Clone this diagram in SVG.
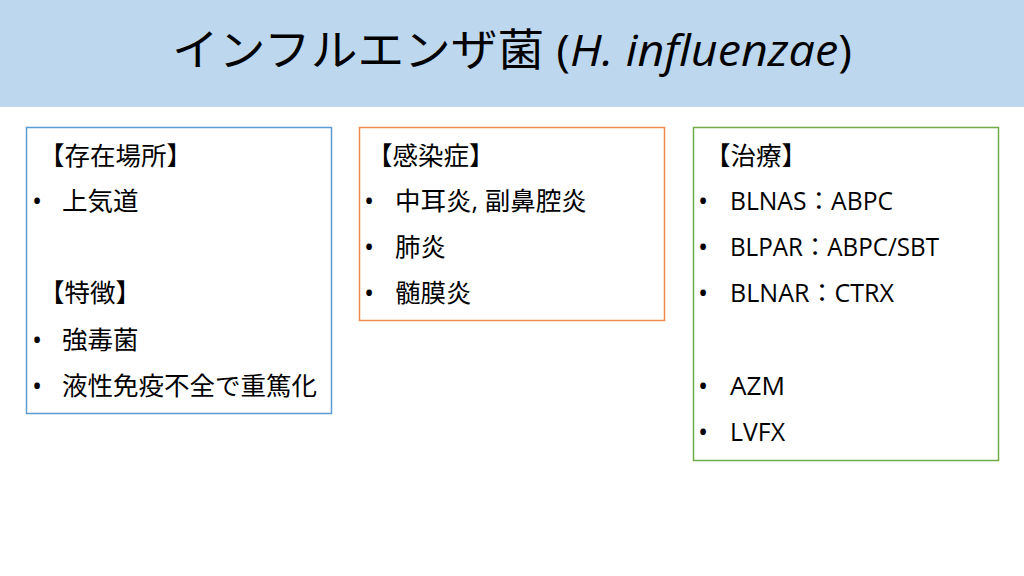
<svg xmlns="http://www.w3.org/2000/svg" width="1024" height="576" viewBox="0 0 1024 576">
<style>
text{font-family:"Open Sans","Noto Sans CJK JP",sans-serif;fill:#000}
.t{font-size:44px}
.b{font-size:25.5px}
.d{font-size:27px}
.box{fill:#fff;stroke-width:1.5}
</style>
<rect x="0" y="0" width="1024" height="576" fill="#fff"/>
<g id="title">
<rect x="0" y="0" width="1024" height="107" fill="#BDD7EE"/>
<text class="t" x="512" y="66" text-anchor="middle" textLength="680" lengthAdjust="spacingAndGlyphs">インフルエンザ菌 (<tspan font-style="italic">H. influenzae</tspan>)</text>
</g>
<g id="box-location">
<rect class="box" x="26.5" y="127.5" width="305" height="286" stroke="#5B9BD5"/>
<text class="b" x="39" y="165">【存在場所】</text>
<text class="d" x="32" y="211">•</text><text class="b" x="62" y="210">上気道</text>
<text class="b" x="39" y="302">【特徴】</text>
<text class="d" x="32" y="350">•</text><text class="b" x="62" y="349">強毒菌</text>
<text class="d" x="32" y="396">•</text><text class="b" x="62" y="395">液性免疫不全で重篤化</text>
</g>
<g id="box-infection">
<rect class="box" x="359.5" y="127.5" width="305" height="193" stroke="#F08C4A"/>
<text class="b" x="367" y="165">【感染症】</text>
<text class="d" x="364" y="211">•</text><text class="b" x="395" y="210">中耳炎, 副鼻腔炎</text>
<text class="d" x="364" y="257">•</text><text class="b" x="395" y="256">肺炎</text>
<text class="d" x="364" y="303">•</text><text class="b" x="395" y="302">髄膜炎</text>
</g>
<g id="box-treatment">
<rect class="box" x="693.5" y="127.5" width="305" height="333" stroke="#70AD47"/>
<text class="b" x="705" y="165">【治療】</text>
<text class="d" x="698" y="211">•</text><text class="b" x="730" y="210" textLength="163" lengthAdjust="spacingAndGlyphs">BLNAS：ABPC</text>
<text class="d" x="698" y="257">•</text><text class="b" x="730" y="256" textLength="209" lengthAdjust="spacingAndGlyphs">BLPAR：ABPC/SBT</text>
<text class="d" x="698" y="303">•</text><text class="b" x="730" y="302" textLength="164" lengthAdjust="spacingAndGlyphs">BLNAR：CTRX</text>
<text class="d" x="698" y="396">•</text><text class="b" x="730" y="395" textLength="55" lengthAdjust="spacingAndGlyphs">AZM</text>
<text class="d" x="698" y="442">•</text><text class="b" x="730" y="441" textLength="55" lengthAdjust="spacingAndGlyphs">LVFX</text>
</g>
<g id="connectors"></g>
</svg>
